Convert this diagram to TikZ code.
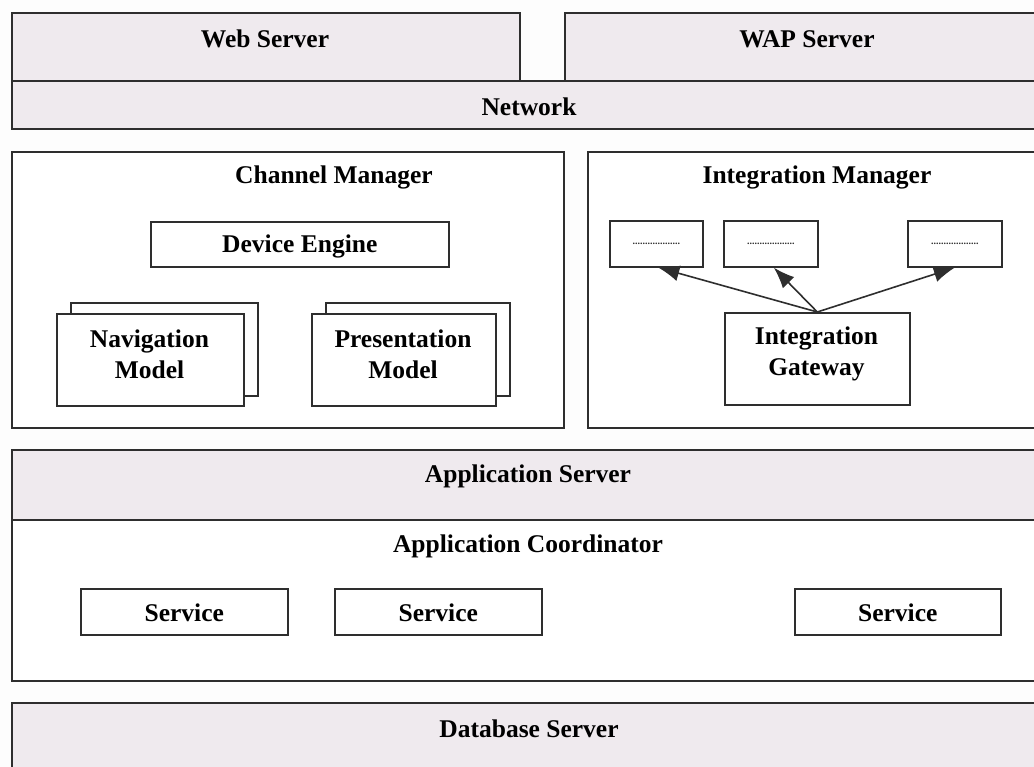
\documentclass[tikz,border=0pt]{standalone}
\usepackage{fontspec}
\setmainfont{Liberation Serif}
\usetikzlibrary{arrows.meta}
\definecolor{layer}{HTML}{EFEAEE}
\definecolor{ink}{HTML}{2E2E2E}
\definecolor{paper}{HTML}{FDFDFD}
\tikzset{
  box/.style={draw=ink, line width=1.6pt, rectangle, inner sep=0pt, anchor=north west},
  graybox/.style={box, fill=layer},
  whitebox/.style={box, fill=white},
  title/.style={font=\bfseries\fontsize{25.5}{31}\selectfont, align=center, inner sep=0pt, text=black},
  dots/.style={font=\bfseries\fontsize{10}{10}\selectfont, inner sep=0pt, text=ink},
  arr/.style={draw=ink, line width=1.6pt, -{Latex[length=21pt,width=16pt]}}
}
\begin{document}
\begin{tikzpicture}[x=1pt,y=-1pt]
\useasboundingbox (0,0) rectangle (1034,767);
\clip (0,0) rectangle (1034,767);
\fill[paper] (0,0) rectangle (1034,767);

% top layers
\node[graybox, minimum width=508, minimum height=68] (web) at (11,12) {};
\node[graybox, minimum width=483, minimum height=68] (wap) at (564,12) {};
\node[graybox, minimum width=1036, minimum height=48] (net) at (11,80) {};
\node[title] (webT) at (265,39) {Web Server};
\node[title] (wapT) at (807,39) {WAP Server};
\node[title] (netT) at (529,107) {Network};

% channel manager
\node[whitebox, minimum width=552, minimum height=276] (cm) at (11,151) {};
\node[title] (cmT) at (334,177) {Channel Manager};
\node[whitebox, minimum width=298, minimum height=45] (dev) at (150,221) {};
\node[title] (devT) at ([yshift=-2]dev.center) {Device Engine};
\node[whitebox, minimum width=187, minimum height=93] (navB) at (70,302) {};
\node[whitebox, minimum width=187, minimum height=92] (nav) at (56,313) {};
\node[title] (navT) at (149.5,354) {Navigation\\Model};
\node[whitebox, minimum width=184, minimum height=93] (preB) at (325,302) {};
\node[whitebox, minimum width=184, minimum height=92] (pre) at (311,313) {};
\node[title] (preT) at (403,354) {Presentation\\Model};

% integration manager
\node[whitebox, minimum width=460, minimum height=276] (im) at (587,151) {};
\node[title] (imT) at (817,177) {Integration Manager};
\node[whitebox, minimum width=93, minimum height=46] (d1) at (609,220) {};
\node[whitebox, minimum width=94, minimum height=46] (d2) at (723,220) {};
\node[whitebox, minimum width=94, minimum height=46] (d3) at (907,220) {};
\node[dots] at (d1.center) {...................};
\node[dots] at (d2.center) {...................};
\node[dots] at (d3.center) {...................};
\node[whitebox, minimum width=185, minimum height=92] (gw) at (724,312) {};
\node[title] (gwT) at (816.5,354) {Integration\\Gateway};
\draw[arr] (gw.north) -- ([xshift=2]d1.south);
\draw[arr] (gw.north) -- ([xshift=3]d2.south);
\draw[arr] (gw.north) -- (d3.south);

% application server
\node[graybox, minimum width=1036, minimum height=70] (app) at (11,449) {};
\node[whitebox, minimum width=1036, minimum height=161] (coord) at (11,519) {};
\node[title] (appT) at (528,476) {Application Server};
\node[title] (coordT) at (528,546) {Application Coordinator};
\node[whitebox, minimum width=207, minimum height=46] (s1) at (80,588) {};
\node[whitebox, minimum width=207, minimum height=46] (s2) at (334,588) {};
\node[whitebox, minimum width=206, minimum height=46] (s3) at (794,588) {};
\node[title] (s1T) at ([yshift=-1]s1.center) {Service};
\node[title] (s2T) at ([yshift=-1]s2.center) {Service};
\node[title] (s3T) at ([yshift=-1]s3.center) {Service};

% database server
\node[graybox, minimum width=1036, minimum height=100] (db) at (11,702) {};
\node[title] (dbT) at (529,729) {Database Server};
\end{tikzpicture}
\end{document}
